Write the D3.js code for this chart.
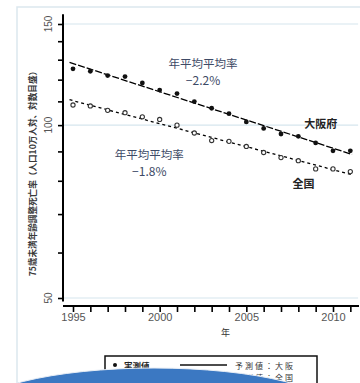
<!DOCTYPE html>
<html><head><meta charset="utf-8">
<script src="https://cdn.jsdelivr.net/npm/d3@7"></script>
<style>
html,body{margin:0;padding:0;background:#fff;}
svg{display:block;font-family:"Noto Sans CJK JP","Noto Sans",sans-serif;}
</style></head>
<body><svg id="c" width="360" height="383"></svg>
<script>
const years = [1995,1996,1997,1998,1999,2000,2001,2002,2003,2004,2005,2006,2007,2008,2009,2010,2011];
const osaka = [125.3,124.1,122.0,121.5,118.4,115.1,113.5,109.9,107.0,104.7,101.3,98.7,96.5,95.6,93.1,90.2,90.2];
const zenkoku = [108.4,108.0,106.1,105.1,103.4,102.3,100.0,96.9,94.0,93.7,91.8,89.6,87.8,86.7,83.9,83.9,83.0];
const yTicks = [50,60,70,80,90,100,110,120,130,140,150];
const yLabels = [50,100,150];
const xLabels = [1995,2000,2005,2010];
const yTitle = "75歳未満年齢調整死亡率（人口10万人対、対数目盛）";
const xTitle = "年";
const rateOsaka = ["年平均平均率","−2.2%"];
const rateZenkoku = ["年平均平均率","−1.8%"];
const nameOsaka = "大阪府", nameZenkoku = "全国";
const legendItems = ["実測値","予測値：大阪","予測値：全国"];

const svg = d3.select("#c");
const x = d3.scaleLinear().domain([1995,2010]).range([73,333]);
const y = d3.scaleLog().domain([50,150]).range([298,24]);
const xAxisY = 306, yAxisX = 63;

// outer frame
svg.append("rect").attr("x",17).attr("y",7).attr("width",360).attr("height",400)
  .attr("fill","none").attr("stroke","#dbe7ee").attr("stroke-width",1.5);

// gridlines
svg.append("g").selectAll("line").data(yLabels).join("line")
  .attr("x1",yAxisX).attr("x2",x(2011.45)).attr("y1",d=>y(d)).attr("y2",d=>y(d))
  .attr("stroke","#d6e6ee").attr("stroke-width",1.2);

// y axis
const yAxis = d3.axisLeft(y).tickValues(yTicks).tickSize(5).tickFormat("");
const gy = svg.append("g").attr("transform",`translate(${yAxisX},0)`).call(yAxis);
gy.select(".domain").remove();
gy.selectAll(".tick line").attr("stroke","#000").attr("stroke-width",1.6);
svg.append("line").attr("x1",yAxisX).attr("x2",yAxisX).attr("y1",y(156)).attr("y2",y(49.3))
  .attr("stroke","#000").attr("stroke-width",2);
svg.append("g").selectAll("text").data(yLabels).join("text")
  .attr("transform",d=>`translate(${yAxisX-11},${y(d)}) rotate(-90)`)
  .attr("text-anchor","middle").attr("font-size",10).attr("fill","#555")
  .attr("font-family","Liberation Sans, sans-serif")
  .text(d=>d);

// x axis
const xAxis = d3.axisBottom(x).tickValues(years).tickSize(6)
  .tickFormat(d=>xLabels.includes(d)?d:"");
const gx = svg.append("g").attr("transform",`translate(0,${xAxisY})`).call(xAxis);
gx.select(".domain").remove();
gx.selectAll(".tick line").attr("stroke","#000").attr("stroke-width",1.6);
gx.selectAll(".tick text").attr("font-size",11).attr("fill","#555").attr("dy","0.55em")
  .attr("font-family","Liberation Sans, sans-serif");
svg.append("line").attr("x1",yAxisX).attr("x2",x(2011.5)).attr("y1",xAxisY).attr("y2",xAxisY)
  .attr("stroke","#000").attr("stroke-width",2);

// titles
svg.append("text").attr("x",x(2003.8)).attr("y",336).attr("text-anchor","middle")
  .attr("font-size",9).attr("fill","#333").text(xTitle);
svg.append("text").attr("transform",`translate(36,${y(83)}) rotate(-90)`)
  .attr("text-anchor","middle").attr("font-size",8.6).attr("font-weight","bold")
  .attr("fill","#3a3a3a").text(yTitle);

// regression in log space
function fit(vals){
  const mx=d3.mean(years), ly=vals.map(Math.log), my=d3.mean(ly);
  let sxy=0,sxx=0;
  years.forEach((t,i)=>{sxy+=(t-mx)*(ly[i]-my);sxx+=(t-mx)*(t-mx);});
  const b=sxy/sxx;
  return t=>Math.exp(my+b*(t-mx));
}
const line = d3.line().x(d=>x(d[0])).y(d=>y(d[1]));
[[osaka,"7,2"],[zenkoku,"3,3"]].forEach(([vals,dash])=>{
  const f=fit(vals);
  const pts=[1994.8,2011.1].map(t=>[t,f(t)]);
  svg.append("path").attr("d",line(pts)).attr("fill","none")
    .attr("stroke","#000").attr("stroke-width",1.3).attr("stroke-dasharray",dash);
});

// points
svg.append("g").selectAll("circle").data(years.map((t,i)=>[t,osaka[i]])).join("circle")
  .attr("cx",d=>x(d[0])).attr("cy",d=>y(d[1])).attr("r",2.4).attr("fill","#111");
svg.append("g").selectAll("circle").data(years.map((t,i)=>[t,zenkoku[i]])).join("circle")
  .attr("cx",d=>x(d[0])).attr("cy",d=>y(d[1])).attr("r",2.1)
  .attr("fill","#fff").attr("stroke","#333").attr("stroke-width",1.1);

// annotations
function ann(lines,cx,cy){
  lines.forEach((s,i)=>svg.append("text").attr("x",cx).attr("y",cy+i*16)
    .attr("text-anchor","middle").attr("dominant-baseline","central")
    .attr("font-size",i?12:11.5).attr("fill","#3d4a66").text(s));
}
ann(rateOsaka,x(2002.5),63);
ann(rateZenkoku,x(1999.4),154);
svg.append("text").attr("x",x(2009.3)).attr("y",123).attr("text-anchor","middle")
  .attr("dominant-baseline","central").attr("font-size",11).attr("font-weight","bold")
  .attr("fill","#222").text(nameOsaka);
svg.append("text").attr("x",x(2008.3)).attr("y",183).attr("text-anchor","middle")
  .attr("dominant-baseline","central").attr("font-size",11).attr("font-weight","bold")
  .attr("fill","#222").text(nameZenkoku);

// legend
const lg = svg.append("g");
lg.append("rect").attr("x",105).attr("y",356).attr("width",212).attr("height",40)
  .attr("fill","#fff").attr("stroke","#111").attr("stroke-width",1.5);
lg.append("circle").attr("cx",115).attr("cy",365).attr("r",2).attr("fill","#111");
lg.append("text").attr("x",124).attr("y",365).attr("dominant-baseline","central")
  .attr("font-size",8.5).attr("font-weight","bold").attr("fill","#222").text(legendItems[0]);
lg.append("line").attr("x1",180).attr("x2",227).attr("y1",365).attr("y2",365)
  .attr("stroke","#111").attr("stroke-width",1.5);
lg.append("text").attr("x",235).attr("y",365).attr("dominant-baseline","central")
  .attr("font-size",8).attr("fill","#333").attr("letter-spacing",2).text(legendItems[1]);
lg.append("line").attr("x1",180).attr("x2",227).attr("y1",377).attr("y2",377)
  .attr("stroke","#111").attr("stroke-width",1.5).attr("stroke-dasharray","3,3");
lg.append("text").attr("x",235).attr("y",377).attr("dominant-baseline","central")
  .attr("font-size",8).attr("fill","#333").attr("letter-spacing",2).text(legendItems[2]);

// blue ellipse overlay
svg.append("ellipse").attr("cx",154).attr("cy",414).attr("rx",185).attr("ry",46)
  .attr("fill","#3b78c2").attr("stroke","#e8eef6").attr("stroke-width",1);
</script></body></html>
